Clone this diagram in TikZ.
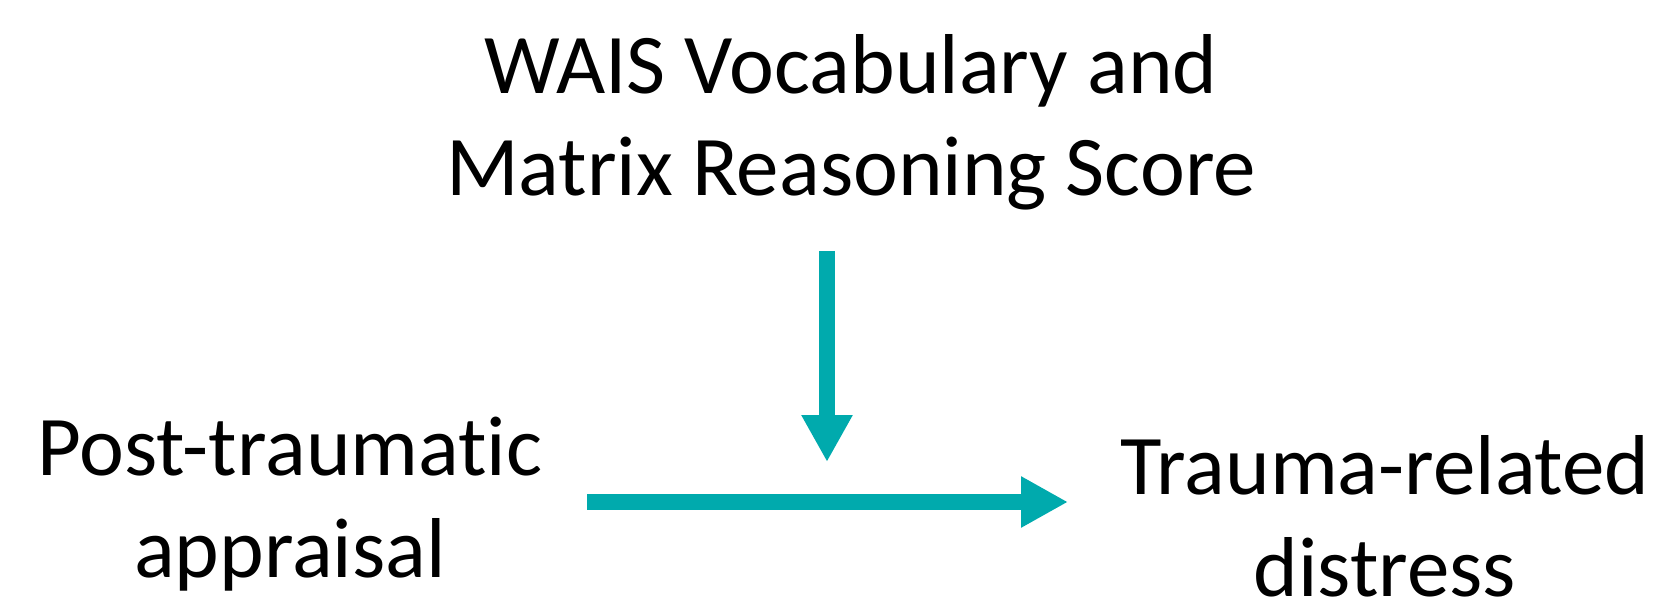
\documentclass[tikz,border=0pt]{standalone}
\usepackage{fontspec}
\setmainfont{Carlito}[Ligatures=NoCommon]
\usepackage{xcolor}
\usetikzlibrary{arrows.meta}
\definecolor{tealarrow}{RGB}{0,170,173}

\begin{document}
\begin{tikzpicture}[
    x=1pt, y=-1pt,
    var/.style={align=center, inner sep=0pt, anchor=base, font=\fontsize{85}{102}\selectfont},
    link/.style={draw=tealarrow, line width=16pt, -{Triangle[length=47pt, width=48pt]}}
]
\useasboundingbox (0,0) rectangle (1659,610);
% base anchor sits on the last line
\node[var] (wais) at (851,195) {WAIS Vocabulary and\\Matrix Reasoning Score};
\node[var] (pta) at (290,577) {Post-traumatic\\appraisal};
\node[var] (trd) at (1385,596) {Trauma-related\\distress};
\coordinate (hs) at (587,502);
\coordinate (he) at (1068,502);
\coordinate (modtip) at (827,462);
\draw[link] (hs) -- (he);
\draw[link, shorten <=41pt] (modtip |- wais.south) -- (modtip);
\end{tikzpicture}
\end{document}
